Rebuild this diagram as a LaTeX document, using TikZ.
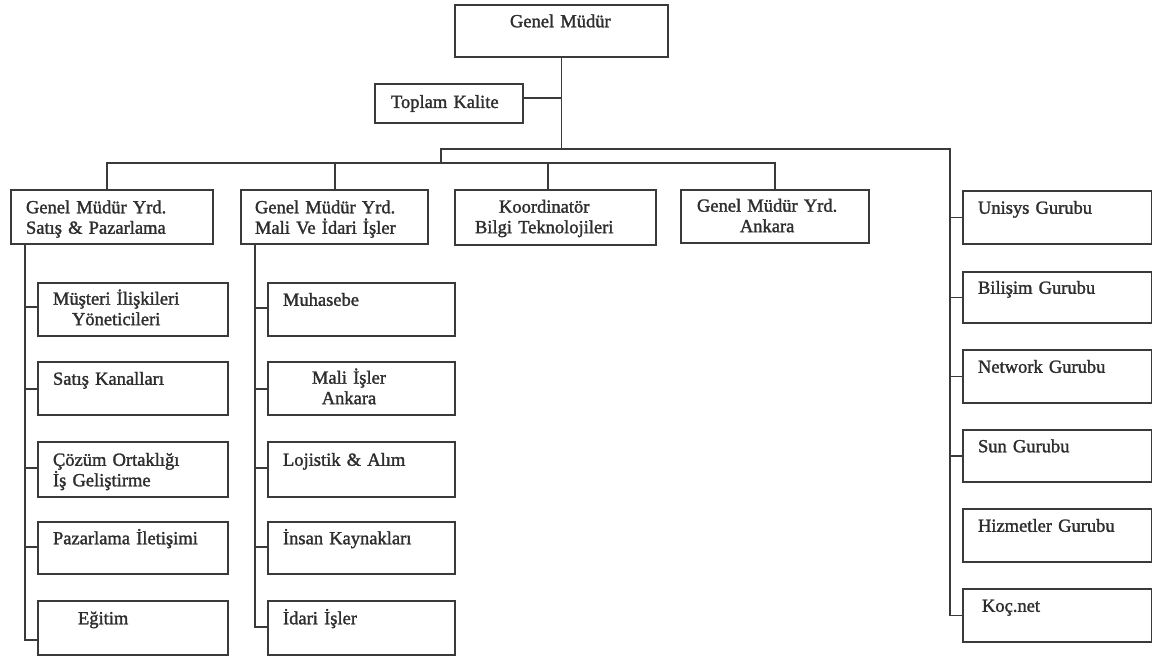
\documentclass[tikz,border=0pt]{standalone}
\usepackage{fontspec}
\setmainfont{Liberation Serif}[FakeBold=1.5]
\definecolor{linecol}{HTML}{3A3A3A}
\definecolor{textcol}{HTML}{2E2E2E}
\tikzset{
  box/.style={draw=linecol, line width=1.3pt, inner xsep=0pt, inner ysep=0pt,
    align=left, text=textcol, font=\fontsize{18.5}{20.5}\selectfont},
  conn/.style={draw=linecol, line width=1.3pt}
}
\newcommand\topstrut{\rule{0pt}{17pt}}
\newcommand\botstrut{\rule[-4pt]{0pt}{4pt}}
% box with two left-aligned lines
\newcommand\mkbox[8]{%
  \pgfmathsetmacro\mkW{#4-#2}\pgfmathsetmacro\mkH{#5-#3}%
  \pgfmathsetmacro\mkT{#4-#2-2*#6}%
  \pgfmathsetmacro\mkX{(#2+#4)/2}\pgfmathsetmacro\mkY{(#3+#5)/2}%
  \node[box, minimum width=\mkW pt, minimum height=\mkH pt, text width=\mkT pt] (#1) at (\mkX,\mkY) {\topstrut#7\\#8\botstrut};}
% box with two lines centred on each other
\newcommand\mkboxc[8]{%
  \pgfmathsetmacro\mkW{#4-#2}\pgfmathsetmacro\mkH{#5-#3}%
  \pgfmathsetmacro\mkT{#4-#2-2*#6}%
  \pgfmathsetmacro\mkX{(#2+#4)/2}\pgfmathsetmacro\mkY{(#3+#5)/2}%
  \node[box, minimum width=\mkW pt, minimum height=\mkH pt, text width=\mkT pt] (#1) at (\mkX,\mkY) {\topstrut\begin{tabular}[t]{@{}c@{}}#7\\#8\end{tabular}};}
\begin{document}
\begin{tikzpicture}[x=1pt,y=-1pt]
\fill[white] (0,0) rectangle (1153,657);
\useasboundingbox (0,0) rectangle (1153,657);
% top
\mkbox{gm}{455}{5}{668}{57}{55}{Genel Müdür}{}
\node[box, minimum width=148pt, minimum height=39pt, text width=116pt] (tk) at (449,103.5) {Toplam Kalite};
% second level
\mkbox{satis}{11}{190}{213}{244}{15}{Genel Müdür Yrd.}{Satış \& Pazarlama}
\mkbox{mali}{241}{190}{428}{244}{14}{Genel Müdür Yrd.}{Mali Ve İdari İşler}
\mkboxc{koord}{455}{190}{656}{245}{20}{Koordinatör}{Bilgi Teknolojileri}
\mkboxc{ankara}{681}{190}{869}{243}{16}{Genel Müdür Yrd.}{Ankara}
% left column
\mkboxc{musteri}{38}{283}{228}{336}{15}{Müşteri İlişkileri}{Yöneticileri}
\mkbox{kanal}{38}{362}{228}{415}{15}{Satış Kanalları}{}
\mkbox{cozum}{38}{442}{228}{497}{15}{Çözüm Ortaklığı}{İş Geliştirme}
\mkbox{paz}{38}{522}{228}{574}{15}{Pazarlama İletişimi}{}
\mkbox{egitim}{38}{601}{228}{655}{40}{Eğitim}{}
% middle column
\mkbox{muhasebe}{268}{283}{455}{336}{15}{Muhasebe}{}
\mkboxc{maliank}{268}{362}{455}{415}{44}{Mali İşler}{Ankara}
\mkbox{lojistik}{268}{442}{455}{497}{15}{Lojistik \& Alım}{}
\mkbox{insan}{268}{522}{455}{574}{15}{İnsan Kaynakları}{}
\mkbox{idari}{268}{601}{455}{655}{15}{İdari İşler}{}
% right column
\mkbox{unisys}{963}{191}{1151.5}{244}{15}{Unisys Gurubu}{}
\mkbox{bilisim}{963}{272}{1151.5}{323}{15}{Bilişim Gurubu}{}
\mkbox{network}{963}{350}{1151.5}{403}{15}{Network Gurubu}{}
\mkbox{sun}{963}{430}{1151.5}{482}{15}{Sun Gurubu}{}
\mkbox{hizmet}{963}{509}{1151.5}{562}{15}{Hizmetler Gurubu}{}
\mkbox{kocnet}{963}{589}{1151.5}{642}{19}{Koç.net}{}
% connectors
\draw[conn] (gm.south) -- (gm.south |- 0,149);
\draw[conn] ([yshift=5.5pt]tk.east) -- ([yshift=5.5pt]tk.east -| gm.south);
\draw[conn] (441,163) -- (441,149) -- (950,149) -- (kocnet.west -| 950,0) -- (kocnet.west);
\foreach \n in {unisys,bilisim,network,sun} \draw[conn] (\n.west) -- (\n.west -| 950,0);
\draw[conn] (satis.north -| 107,0) -- (107,163) -- (775,163) -- (ankara.north);
\draw[conn] (mali.north -| 335,0) -- (335,163);
\draw[conn] (koord.north -| 548,0) -- (548,163);
\draw[conn] (satis.south -| 25,0) -- (25,640) -- (egitim.west |- 0,640);
\foreach \n/\y in {musteri/307,kanal/389,cozum/468,paz/547} \draw[conn] (25,\y) -- (\n.west |- 0,\y);
\draw[conn] (mali.south -| 255,0) -- (255,627) -- (idari.west |- 0,627);
\foreach \n/\y in {muhasebe/308,maliank/389,lojistik/468,insan/547} \draw[conn] (255,\y) -- (\n.west |- 0,\y);
\end{tikzpicture}
\end{document}
